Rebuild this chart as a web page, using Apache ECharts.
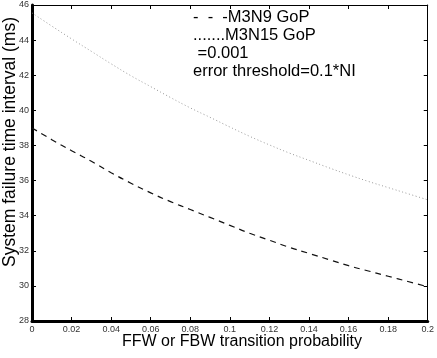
<!DOCTYPE html>
<html>
<head>
<meta charset="utf-8">
<script src="https://cdn.jsdelivr.net/npm/echarts@6/dist/echarts.min.js"></script>
<style>
html,body{margin:0;padding:0;background:#fff;}
#c{width:437px;height:358px;}
</style>
</head>
<body>
<div id="c"></div>
<script>
var probabilities = [0,0.01,0.02,0.03,0.04,0.05,0.06,0.07,0.08,0.09,0.10,0.11,0.12,0.13,0.14,0.15,0.16,0.17,0.18,0.19,0.20];
var m3n9 = [39.0,38.33,37.7,37.1,36.45,35.85,35.3,34.8,34.35,33.9,33.45,33.0,32.6,32.2,31.85,31.5,31.15,30.85,30.55,30.25,29.95];
var m3n15 = [45.55,44.8,44.07,43.36,42.65,41.97,41.35,40.73,40.14,39.6,39.05,38.52,38.03,37.57,37.15,36.73,36.33,35.95,35.6,35.25,34.9];
var legendLines = ['-  -  -M3N9 GoP', '.......M3N15 GoP', ' =0.001', 'error threshold=0.1*NI'];
var xTitle = 'FFW or FBW transition probability';
var yTitle = 'System failure time interval (ms)';

function pairs(ys){ return probabilities.map(function(x,i){ return [x, ys[i]]; }); }

var FONT = '"Liberation Sans", Arial, sans-serif';
var chart = echarts.init(document.getElementById('c'), null, {renderer:'canvas'});
var tickStyle = {show:true, inside:true, length:4, lineStyle:{color:'#000', width:1}};
chart.setOption({
  animation:false,
  backgroundColor:'#fff',
  grid:{left:32, right:4, top:5, bottom:37},
  xAxis:[{
    type:'value', min:0, max:0.2, interval:0.02, position:'bottom',
    axisLine:{show:true, onZero:false, lineStyle:{color:'#000', width:3}},
    axisTick:tickStyle,
    axisLabel:{fontFamily:FONT, fontSize:9, color:'#333', margin:4,
      formatter:function(v){ return String(Math.round(v*100)/100); }},
    splitLine:{show:false}
  },{
    type:'value', min:0, max:0.2, interval:0.02, position:'top',
    axisLine:{show:true, onZero:false, lineStyle:{color:'#000', width:1}},
    axisTick:tickStyle, axisLabel:{show:false}, splitLine:{show:false}
  }],
  yAxis:[{
    type:'value', min:28, max:46, interval:2, position:'left',
    axisLine:{show:true, onZero:false, lineStyle:{color:'#000', width:3}},
    axisTick:tickStyle,
    axisLabel:{fontFamily:FONT, fontSize:9, color:'#333', margin:3},
    splitLine:{show:false}
  },{
    type:'value', min:28, max:46, interval:2, position:'right',
    axisLine:{show:true, onZero:false, lineStyle:{color:'#000', width:1}},
    axisTick:tickStyle, axisLabel:{show:false}, splitLine:{show:false}
  }],
  series:[{
    name:'M3N9 GoP', type:'line', data:pairs(m3n9), smooth:true, showSymbol:false,
    lineStyle:{color:'#111', width:1.2, type:[6,5]}
  },{
    name:'M3N15 GoP', type:'line', data:pairs(m3n15), smooth:true, showSymbol:false,
    lineStyle:{color:'#999', width:1, type:[1,2.5]}
  }],
  graphic:[{
    type:'text', left:193, top:8,
    style:{text:legendLines.join('\n'), font:'16.5px '+FONT, fill:'#000', lineHeight:18}
  },{
    type:'text', x:242, y:342,
    style:{text:xTitle, font:'16px '+FONT, fill:'#000', align:'center', verticalAlign:'middle'}
  },{
    type:'text', x:10, y:142, rotation:Math.PI/2,
    style:{text:yTitle, font:'17.5px '+FONT, fill:'#000', align:'center', verticalAlign:'middle'}
  }]
});
</script>
</body>
</html>
